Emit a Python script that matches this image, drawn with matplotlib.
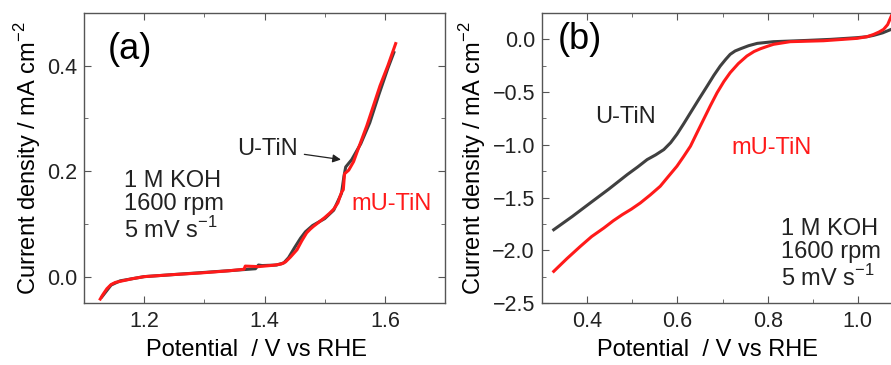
import matplotlib
matplotlib.use("Agg")
import matplotlib.pyplot as plt
from matplotlib.ticker import MultipleLocator

# ---- data ------------------------------------------------------------------
# (a) OER-range LSV
a_mu_x = [1.127, 1.132, 1.138, 1.145, 1.152, 1.16, 1.18, 1.2, 1.25, 1.294,
          1.34, 1.366, 1.368, 1.39, 1.415, 1.428, 1.435, 1.443, 1.454, 1.462,
          1.47, 1.476, 1.481, 1.49, 1.5, 1.508, 1.515, 1.522, 1.528, 1.531,
          1.533, 1.537, 1.54, 1.548, 1.555, 1.57, 1.592, 1.605, 1.618]
a_mu_y = [-0.0425, -0.033, -0.023, -0.015, -0.011, -0.009, -0.004, 0.0, 0.004,
          0.007, 0.011, 0.014, 0.02, 0.019, 0.0216, 0.024, 0.028, 0.037, 0.051,
          0.068, 0.083, 0.09, 0.095, 0.103, 0.112, 0.12, 0.128, 0.14, 0.16,
          0.165, 0.195, 0.199, 0.202, 0.218, 0.24, 0.286, 0.362, 0.40, 0.442]
a_u_x = [1.13, 1.145, 1.16, 1.2, 1.25, 1.3, 1.35, 1.385, 1.39, 1.396, 1.42,
         1.432, 1.44, 1.45, 1.46, 1.468, 1.48, 1.5, 1.515, 1.528, 1.532, 1.535,
         1.545, 1.56, 1.575, 1.59, 1.605, 1.615]
a_u_y = [-0.038, -0.016, -0.008, 0.0, 0.004, 0.008, 0.012, 0.015, 0.022, 0.021,
         0.022, 0.026, 0.036, 0.055, 0.073, 0.085, 0.097, 0.11, 0.126, 0.158,
         0.19, 0.208, 0.222, 0.252, 0.292, 0.345, 0.395, 0.425]

# (b) ORR-range LSV
b_u_x = [0.326, 0.367, 0.407, 0.448, 0.489, 0.512, 0.533, 0.552, 0.57, 0.585,
         0.599, 0.614, 0.629, 0.648, 0.666, 0.681, 0.695, 0.707, 0.717, 0.728,
         0.74, 0.758, 0.777, 0.813, 0.85, 0.887, 0.94, 0.998, 1.02, 1.035,
         1.055, 1.074]
b_u_y = [-1.805, -1.68, -1.551, -1.42, -1.282, -1.21, -1.14, -1.095, -1.045,
         -0.98, -0.90, -0.80, -0.696, -0.565, -0.443, -0.34, -0.253, -0.19,
         -0.142, -0.11, -0.089, -0.06, -0.038, -0.022, -0.016, -0.01, 0.0,
         0.016, 0.025, 0.038, 0.062, 0.095]
b_mu_x = [0.326, 0.355, 0.385, 0.41, 0.437, 0.458, 0.478, 0.498, 0.518, 0.54,
          0.562, 0.58, 0.599, 0.614, 0.629, 0.643, 0.658, 0.673, 0.688, 0.703,
          0.717, 0.735, 0.754, 0.77, 0.784, 0.8, 0.813, 0.85, 0.924, 0.998,
          1.02, 1.035, 1.047, 1.057, 1.066, 1.074, 1.085]
b_mu_y = [-2.2, -2.08, -1.963, -1.87, -1.789, -1.72, -1.662, -1.61, -1.551,
          -1.475, -1.393, -1.30, -1.203, -1.11, -1.013, -0.89, -0.76, -0.63,
          -0.506, -0.40, -0.316, -0.23, -0.158, -0.115, -0.089, -0.065, -0.047,
          -0.022, -0.013, 0.0095, 0.025, 0.047, 0.07, 0.095, 0.14, 0.22, 0.33]

GRAY = "#404040"
RED = "#ff1a1a"

plt.rcParams.update({
    "font.family": ["Liberation Sans", "DejaVu Sans"],
    "font.size": 15.5,
    "axes.edgecolor": "#555555",
    "axes.linewidth": 1.0,
    "xtick.direction": "in",
    "ytick.direction": "in",
    "xtick.top": True,
    "ytick.right": True,
    "xtick.color": "#555555",
    "ytick.color": "#555555",
    "xtick.labelcolor": "#222222",
    "ytick.labelcolor": "#222222",
    "xtick.major.size": 5,
    "ytick.major.size": 5,
    "xtick.minor.size": 3,
    "ytick.minor.size": 3,
    "xtick.major.pad": 6,
    "ytick.major.pad": 5,
    "xtick.minor.visible": True,
    "ytick.minor.visible": True,
})

fig = plt.figure(figsize=(8.91, 3.65), dpi=100)
W, H = 891, 365
ax1 = fig.add_axes([84 / W, 62 / H, 361 / W, 290 / H])
ax2 = fig.add_axes([542 / W, 62 / H, 361 / W, 290 / H])

ylab = "Current density / mA cm$^{\\mathregular{-2}}$"
xlab = "Potential  / V vs RHE"
cond = "1 M KOH\n1600 rpm\n5 mV s$^{\\mathregular{-1}}$"

# ---- panel (a) ---------------------------------------------------------------
ax1.plot(a_u_x, a_u_y, color=GRAY, lw=2.2)
ax1.plot(a_mu_x, a_mu_y, color=RED, lw=2.2)
ax1.set_xlim(1.1, 1.7)
ax1.set_ylim(-0.05, 0.5)
ax1.xaxis.set_major_locator(MultipleLocator(0.2))
ax1.xaxis.set_minor_locator(MultipleLocator(0.1))
ax1.yaxis.set_major_locator(MultipleLocator(0.2))
ax1.yaxis.set_minor_locator(MultipleLocator(0.1))
ax1.set_xlabel(xlab, fontsize=17)
ax1.xaxis.set_label_coords(0.479, -0.125)
ax1.set_ylabel(ylab, fontsize=17, labelpad=3)
ax1.text(1.14, 0.43, "(a)", fontsize=26, va="center", ha="left")
ax1.text(1.167, 0.133, cond, fontsize=17, va="center", ha="left",
         linespacing=1.1, color="#222222")
ax1.text(1.545, 0.137, "mU-TiN", fontsize=17, color=RED, va="center")
ax1.annotate("U-TiN", xy=(1.527, 0.222), xytext=(1.354, 0.242),
             fontsize=17, va="center", ha="left", color="#222222",
             arrowprops=dict(arrowstyle="-|>", color="#222222", lw=0.9,
                             mutation_scale=12, shrinkA=3, shrinkB=0))

# ---- panel (b) ---------------------------------------------------------------
ax2.plot(b_u_x, b_u_y, color=GRAY, lw=2.2)
ax2.plot(b_mu_x, b_mu_y, color=RED, lw=2.2)
ax2.set_xlim(0.3, 1.1)
ax2.set_ylim(-2.5, 0.25)
ax2.xaxis.set_major_locator(MultipleLocator(0.2))
ax2.xaxis.set_minor_locator(MultipleLocator(0.1))
ax2.yaxis.set_major_locator(MultipleLocator(0.5))
ax2.yaxis.set_minor_locator(MultipleLocator(0.25))
ax2.set_xlabel(xlab, fontsize=17)
ax2.xaxis.set_label_coords(0.458, -0.125)
ax2.set_ylabel(ylab, fontsize=17, labelpad=3)
ax2.text(0.335, 0.0, "(b)", fontsize=26, va="center", ha="left")
ax2.text(0.418, -0.74, "U-TiN", fontsize=17, color="#222222", va="center")
ax2.text(0.72, -1.03, "mU-TiN", fontsize=17, color=RED, va="center")
ax2.text(0.83, -2.04, cond, fontsize=17, va="center", ha="left",
         linespacing=1.1, color="#222222")

fig.savefig("out.png", dpi=100)
